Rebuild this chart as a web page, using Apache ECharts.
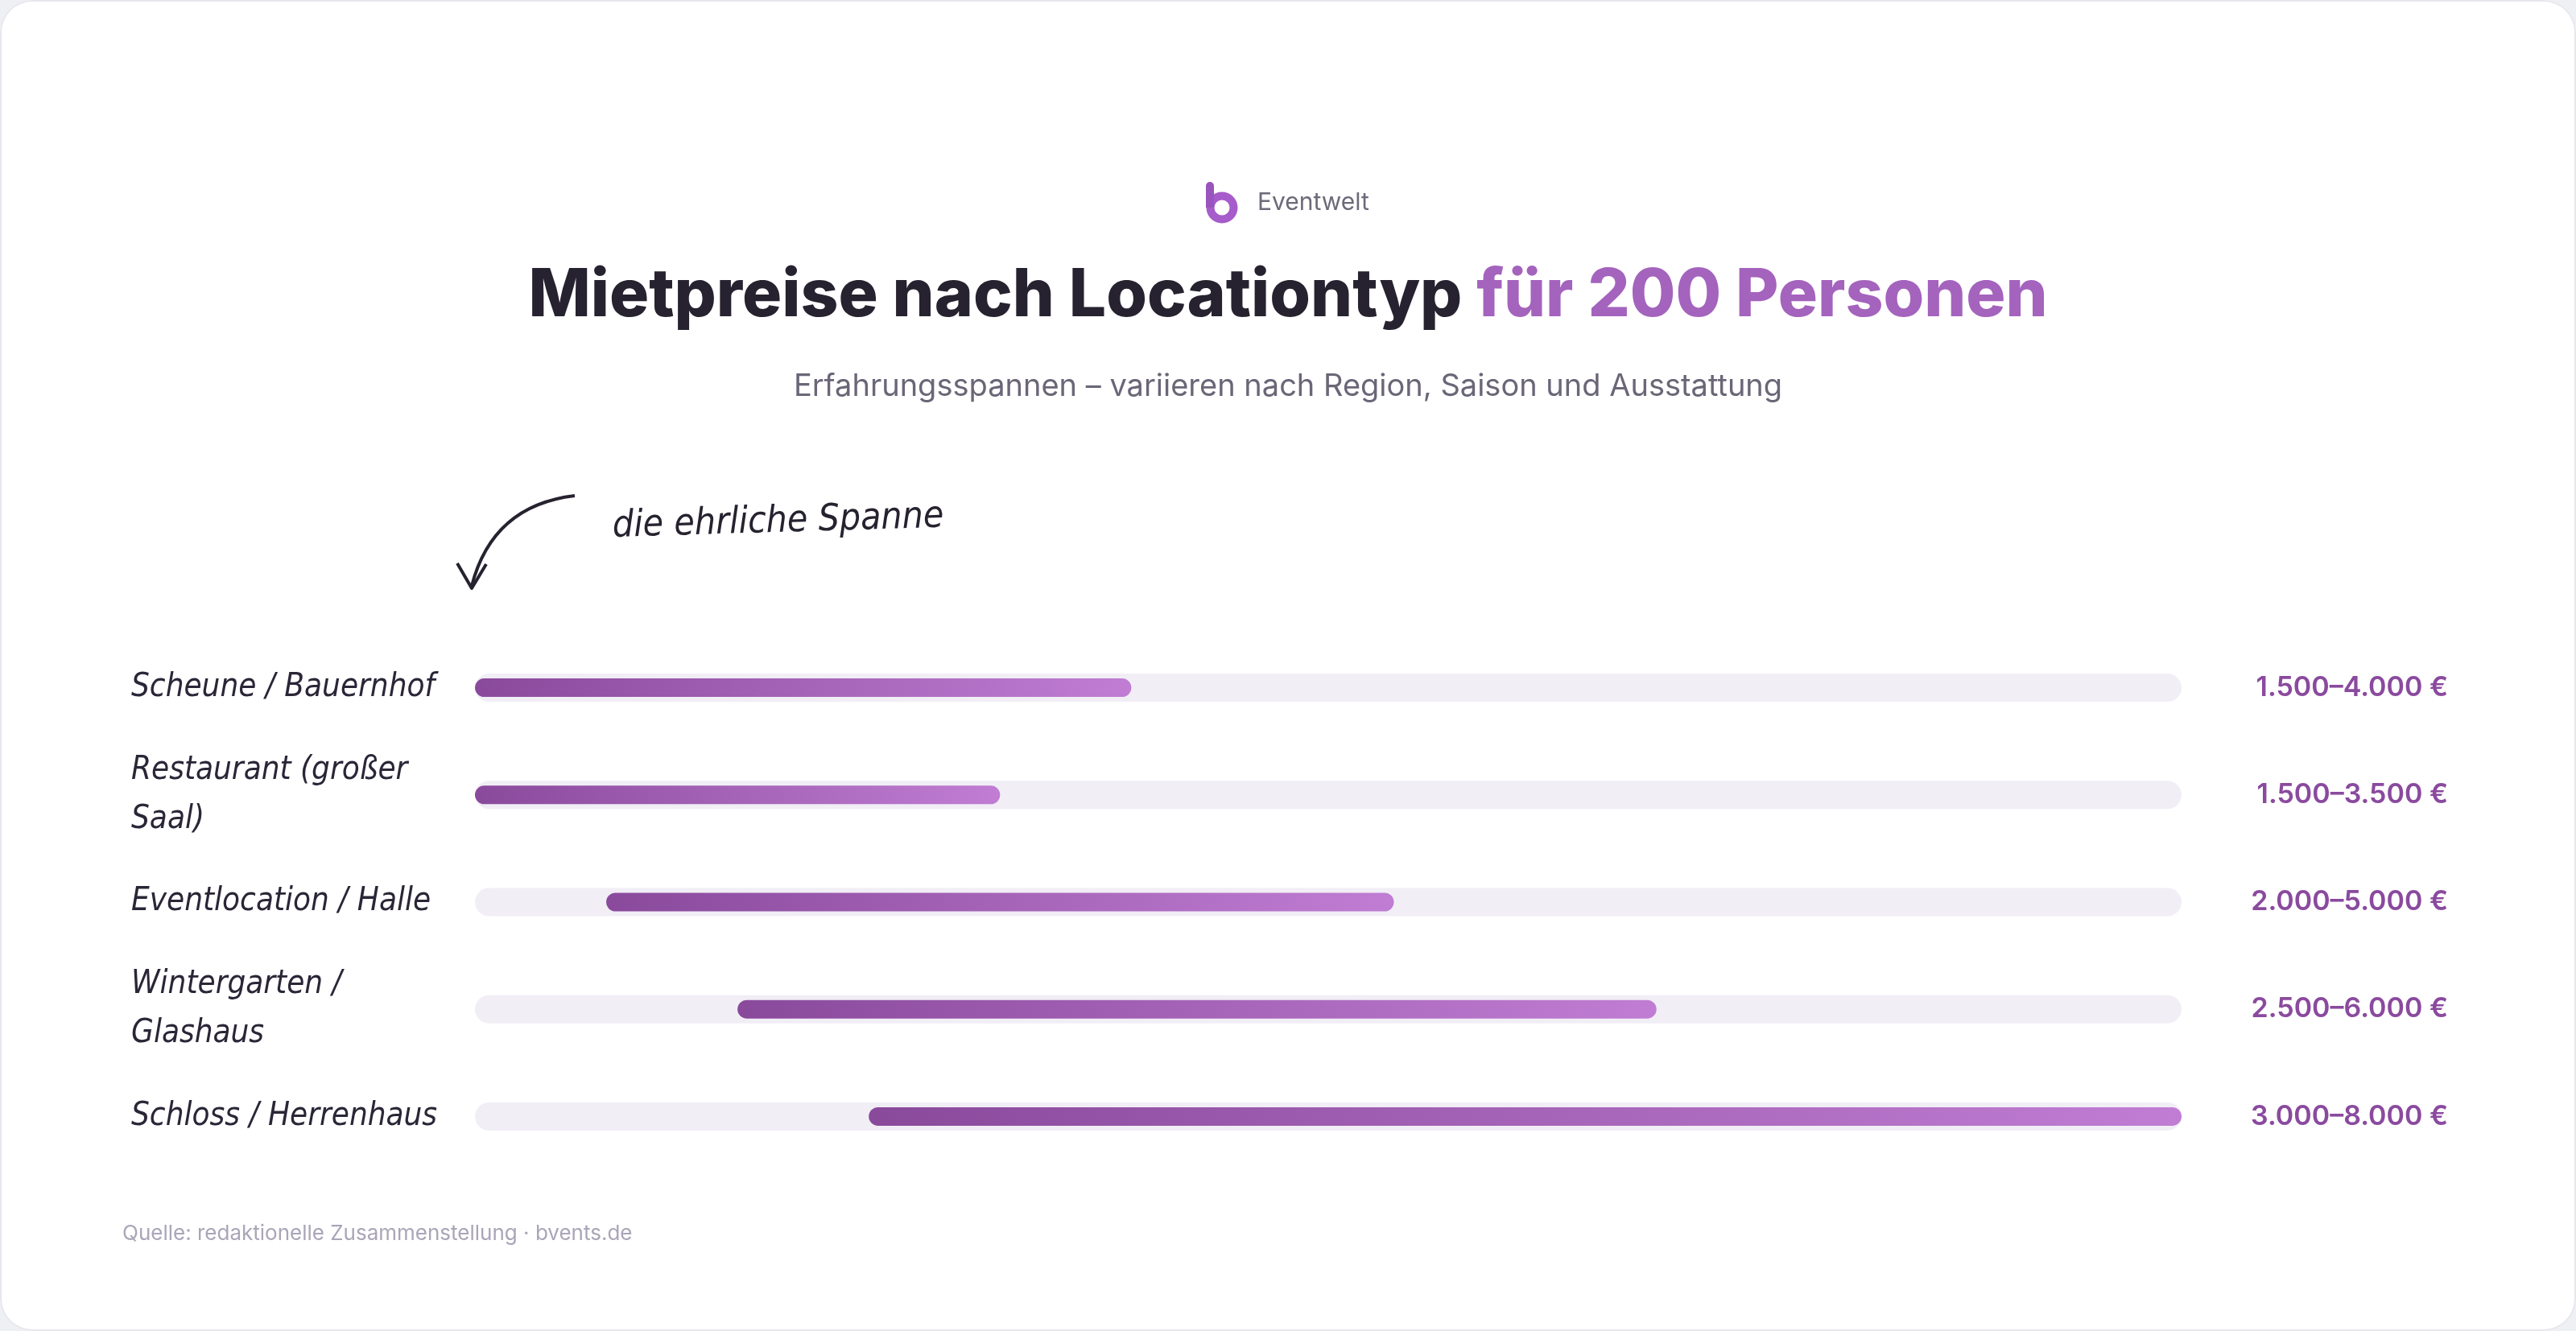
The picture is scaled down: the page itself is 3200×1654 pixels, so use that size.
<!DOCTYPE html>
<html>
<head>
<meta charset="utf-8">
<script src="https://cdn.jsdelivr.net/npm/echarts@6/dist/echarts.min.js"></script>
<style>
    html, body { margin: 0; padding: 0; background: #eef0f3; }
    #main {
        width: 3200px; height: 1654px; background: #fff;
        border-radius: 40px; box-shadow: inset 0 0 0 2px #e7e7ee;
    }
</style>
</head>
<body>
<div id="main"></div>
<script>
var categories = [
    "Scheune / Bauernhof",
    "Restaurant (großer\nSaal)",
    "Eventlocation / Halle",
    "Wintergarten /\nGlashaus",
    "Schloss / Herrenhaus"
];
var lows = [1500, 1500, 2000, 2500, 3000];
var highs = [4000, 3500, 5000, 6000, 8000];
var xMin = 1500;
var xMax = 8000;

var hand = "'Liberation Sans Narrow', 'DejaVu Sans Condensed', 'Roboto Condensed', sans-serif";
var sans = "Inter, 'Noto Sans', sans-serif";

function euro(n) {
    return n.toLocaleString("de-DE");
}

var rangeText = lows.map(function (lo, i) {
    return euro(lo) + "–" + euro(highs[i]) + " €";
});

var chart = echarts.init(document.getElementById("main"));

var option = {
    animation: false,
    title: [
        {
            text: "{a|Mietpreise nach Locationtyp }{b|für 200 Personen}",
            left: "center",
            top: 322,
            textStyle: {
                rich: {
                    a: { fontFamily: sans, fontSize: 82, fontWeight: 800, color: "#27222f" },
                    b: { fontFamily: sans, fontSize: 82, fontWeight: 800, color: "#a463bd" }
                }
            }
        },
        {
            text: "Erfahrungsspannen – variieren nach Region, Saison und Ausstattung",
            left: "center",
            top: 457,
            textStyle: { fontFamily: sans, fontSize: 38, fontWeight: 400, color: "#6b6677" }
        },
        {
            text: "Quelle: redaktionelle Zusammenstellung · bvents.de",
            left: 147,
            top: 1515,
            textStyle: { fontFamily: sans, fontSize: 26, fontWeight: 400, color: "#aaa5b8" }
        }
    ],
    grid: {
        left: 590,
        right: 490,
        top: 788,
        height: 666
    },
    xAxis: {
        type: "value",
        min: xMin,
        max: xMax,
        show: false
    },
    yAxis: [
        {
            type: "category",
            data: categories,
            inverse: true,
            axisLine: { show: false },
            axisTick: { show: false },
            axisLabel: {
                align: "left",
                margin: 427,
                fontFamily: hand,
                fontStyle: "italic",
                fontSize: 40,
                lineHeight: 61,
                color: "#2b2637"
            }
        },
        {
            type: "category",
            data: categories,
            inverse: true,
            position: "right",
            axisLine: { show: false },
            axisTick: { show: false },
            axisLabel: {
                align: "right",
                margin: 331,
                fontFamily: sans,
                fontSize: 34,
                fontWeight: 600,
                color: "#8a4a9e",
                formatter: function (v, i) { return rangeText[i]; }
            }
        }
    ],
    series: [
        {
            name: "trackBase",
            type: "bar",
            yAxisIndex: 1,
            stack: "t",
            barWidth: 35,
            silent: true,
            itemStyle: { color: "transparent" },
            data: lows.map(function () { return xMin; })
        },
        {
            name: "track",
            type: "bar",
            yAxisIndex: 1,
            stack: "t",
            barWidth: 35,
            silent: true,
            itemStyle: { color: "#f1eef6", borderRadius: 18 },
            data: lows.map(function () { return xMax - xMin; })
        },
        {
            name: "base",
            type: "bar",
            yAxisIndex: 0,
            stack: "r",
            barWidth: 23,
            itemStyle: { color: "transparent" },
            data: lows
        },
        {
            name: "Spanne",
            type: "bar",
            yAxisIndex: 0,
            stack: "r",
            barWidth: 23,
            itemStyle: {
                borderRadius: 12,
                color: new echarts.graphic.LinearGradient(0, 0, 1, 0, [
                    { offset: 0, color: "#8a4a9c" },
                    { offset: 1, color: "#c07dd3" }
                ])
            },
            data: highs.map(function (h, i) { return h - lows[i]; })
        }
    ],
    graphic: [
        // logo
        {
            type: "ring",
            shape: { cx: 1518, cy: 258, r: 19.5, r0: 9.5 },
            style: { fill: "#a75ccb" }
        },
        {
            type: "rect",
            shape: { x: 1498, y: 226, width: 10, height: 32, r: [5, 5, 0, 0] },
            style: { fill: "#9a54bd" }
        },
        {
            type: "text",
            x: 1562,
            y: 252,
            style: {
                text: "Eventwelt",
                fontFamily: sans,
                fontSize: 30,
                fill: "#6e6a7a",
                textVerticalAlign: "middle"
            }
        },
        // annotation
        {
            type: "text",
            x: 761,
            y: 655,
            rotation: 0.03,
            style: {
                text: "die ehrliche Spanne",
                fontFamily: hand,
                fontStyle: "italic",
                fontSize: 46,
                fill: "#27222f",
                textVerticalAlign: "middle"
            }
        },
        {
            type: "bezierCurve",
            shape: { x1: 714, y1: 616, cpx1: 612, cpy1: 628, x2: 586, y2: 728 },
            style: { stroke: "#27222f", lineWidth: 4, fill: null }
        },
        {
            type: "polyline",
            shape: { points: [[568, 700], [586, 731], [604, 701]] },
            style: { stroke: "#27222f", lineWidth: 4, fill: null, lineJoin: "round" }
        }
    ]
};

chart.setOption(option);

window.addEventListener("resize", function () {
    chart.resize();
});
</script>
</body>
</html>
